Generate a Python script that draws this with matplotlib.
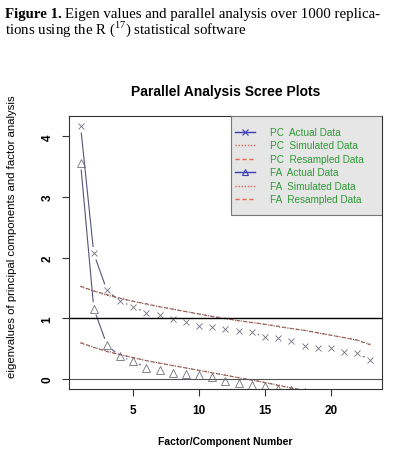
import numpy as np
import matplotlib
matplotlib.use("Agg")
import matplotlib.pyplot as plt
from matplotlib.lines import Line2D
from matplotlib.patches import Rectangle

plt.rcParams["mathtext.fontset"] = "custom"
plt.rcParams["mathtext.rm"] = "Liberation Serif"

# values
factors = list(range(1, 24))
pc_actual = [4.17, 2.07, 1.46, 1.28, 1.19, 1.09, 1.05, 0.98, 0.94, 0.88, 0.86, 0.82,
             0.79, 0.77, 0.69, 0.67, 0.62, 0.55, 0.51, 0.51, 0.45, 0.42, 0.31]
pc_simulated = [1.52, 1.45, 1.38, 1.33, 1.28, 1.23, 1.19, 1.15, 1.11, 1.07, 1.03, 0.99,
                0.96, 0.93, 0.90, 0.86, 0.83, 0.80, 0.76, 0.72, 0.68, 0.64, 0.57]
pc_resampled = [1.53, 1.45, 1.39, 1.33, 1.28, 1.24, 1.19, 1.15, 1.11, 1.07, 1.03, 1.00,
                0.96, 0.93, 0.90, 0.87, 0.83, 0.80, 0.76, 0.72, 0.68, 0.64, 0.56]
fa_actual = [3.56, 1.16, 0.56, 0.37, 0.29, 0.18, 0.14, 0.09, 0.08, 0.07, 0.03, -0.03,
             -0.07, -0.10, -0.11, -0.16, -0.19, -0.22, -0.25, -0.28, -0.31, -0.35, -0.40]
fa_simulated = [0.59, 0.52, 0.46, 0.40, 0.35, 0.30, 0.26, 0.22, 0.18, 0.14, 0.10, 0.06,
                0.02, -0.02, -0.06, -0.10, -0.15, -0.19, -0.23, -0.27, -0.31, -0.36, -0.42]
fa_resampled = [0.60, 0.52, 0.45, 0.40, 0.35, 0.30, 0.26, 0.22, 0.18, 0.14, 0.10, 0.06,
                0.02, -0.02, -0.06, -0.11, -0.15, -0.19, -0.23, -0.27, -0.31, -0.36, -0.42]

legend_labels = ["PC  Actual Data", "PC  Simulated Data", "PC  Resampled Data",
                 "FA  Actual Data", "FA  Simulated Data", "FA  Resampled Data"]

blue = "#3c3cb4"
red = "#e0684a"
green = "#2e9a36"

W, H = 393, 452
fig = plt.figure(figsize=(W / 100, H / 100), dpi=100)
ax = fig.add_axes([69 / W, 1 - 390 / H, (382 - 69) / W, (390 - 117) / H])
ax.set_xlim(0.12, 23.88)
ax.set_ylim(-0.167, 4.337)


def type_b(ax, x, y, color, marker, ms, gap=7):
    # R style type="b": points joined by lines that stop short of each point
    ax.plot(x, y, linestyle="none", marker=marker, ms=ms, mfc="none",
            mec="#707080", mew=0.6, clip_on=True)
    pts = ax.transData.transform(np.column_stack([x, y]))
    inv = ax.transData.inverted()
    for (x0, y0), (x1, y1) in zip(pts[:-1], pts[1:]):
        d = np.hypot(x1 - x0, y1 - y0)
        if d <= 2 * gap:
            continue
        ux, uy = (x1 - x0) / d, (y1 - y0) / d
        a = inv.transform((x0 + ux * gap, y0 + uy * gap))
        b = inv.transform((x1 - ux * gap, y1 - uy * gap))
        ax.plot([a[0], b[0]], [a[1], b[1]], color=color, lw=0.8)


type_b(ax, factors, pc_actual, "#55557a", "x", 4.2)
type_b(ax, factors, fa_actual, "#55557a", "^", 6)
ax.plot(factors, pc_simulated, color="#5a4444", lw=0.8, ls=(0, (1, 1.5)))
ax.plot(factors, pc_resampled, color="#a8584a", lw=0.8, ls=(0, (3, 3)))
ax.plot(factors, fa_simulated, color="#5a4444", lw=0.8, ls=(0, (1, 1.5)))
ax.plot(factors, fa_resampled, color="#a8584a", lw=0.8, ls=(0, (3, 3)))
ax.axhline(1, color="black", lw=1)
ax.axhline(0, color="#555555", lw=0.8)

for s in ax.spines.values():
    s.set_color("#333333")
    s.set_linewidth(0.8)

ax.set_xticks([5, 10, 15, 20])
ax.set_yticks([0, 1, 2, 3, 4])
ax.tick_params(direction="out", length=5, width=0.8, color="#333333")
for t in ax.get_xticklabels() + ax.get_yticklabels():
    t.set_fontweight("bold")
    t.set_fontsize(8.5)
    t.set_family("Liberation Sans")
for t in ax.get_yticklabels():
    t.set_rotation(90)
    t.set_va("center")
ax.tick_params(axis="x", pad=6)
ax.tick_params(axis="y", pad=6)

ax.set_xlabel("Factor/Component Number", fontsize=7.5, fontweight="bold",
              family="Liberation Sans", labelpad=14)
ax.set_ylabel("eigenvalues of principal components and factor analysis",
              fontsize=8.2, family="Liberation Sans")
ax.yaxis.set_label_coords(-0.165, 0.56)
fig.text((69 + 382) / 2 / W, 1 - 92 / H, "Parallel Analysis Scree Plots",
         ha="center", va="center", fontsize=10, fontweight="bold", family="Liberation Sans")


# legend box, drawn by hand in pixel positions
def px(x, y):
    return ((x - 69) / 313, (390 - y) / 273)


lx0, ly0 = px(231.5, 216)
lx1, ly1 = px(382, 117)
ax.add_patch(Rectangle((lx0, ly0), lx1 - lx0, ly1 - ly0, transform=ax.transAxes,
                       facecolor="#e6e6e6", edgecolor="#777777", lw=0.8, zorder=5))
styles = [(blue, "-", "x", 4), (red, (0, (1, 1.2)), None, 0), (red, (0, (3, 2)), None, 0),
          (blue, "-", "^", 5), (red, (0, (1, 1.2)), None, 0), (red, (0, (3, 2)), None, 0)]
for i, (lab, (c, ls, m, ms)) in enumerate(zip(legend_labels, styles)):
    yy = 133 + i * 13.4
    a = px(235, yy)
    b = px(255, yy)
    ax.add_line(Line2D([a[0], b[0]], [a[1], b[1]], transform=ax.transAxes, color=c,
                       ls=ls, lw=1.0, zorder=6, clip_on=False))
    if m:
        mm = px(245, yy)
        ax.add_line(Line2D([mm[0]], [mm[1]], transform=ax.transAxes, marker=m, ms=ms,
                           mfc="none", mec=c, mew=0.8, ls="none", zorder=6, clip_on=False))
    t = px(270, yy)
    ax.text(t[0], t[1], lab, transform=ax.transAxes, color=green, fontsize=7.2,
            family="Liberation Sans", va="center", ha="left", zorder=7)

# caption above the chart
cap_size = 10.7
r = fig.canvas.get_renderer()
t1 = fig.text(5 / W, 1 - 18 / H, "Figure 1.", fontsize=cap_size, family="Liberation Serif",
              fontweight="bold", va="baseline", ha="left")
x_next = t1.get_window_extent(r).x1 + 3
fig.text(x_next / W, 1 - 18 / H, "Eigen values and parallel analysis over 1000 replica-",
         fontsize=cap_size, family="Liberation Serif", va="baseline", ha="left")
fig.text(5 / W, 1 - 34 / H, "tions using the R ($^{17}$) statistical software",
         fontsize=cap_size, family="Liberation Serif", va="baseline", ha="left")

fig.savefig("out.png", dpi=100)
